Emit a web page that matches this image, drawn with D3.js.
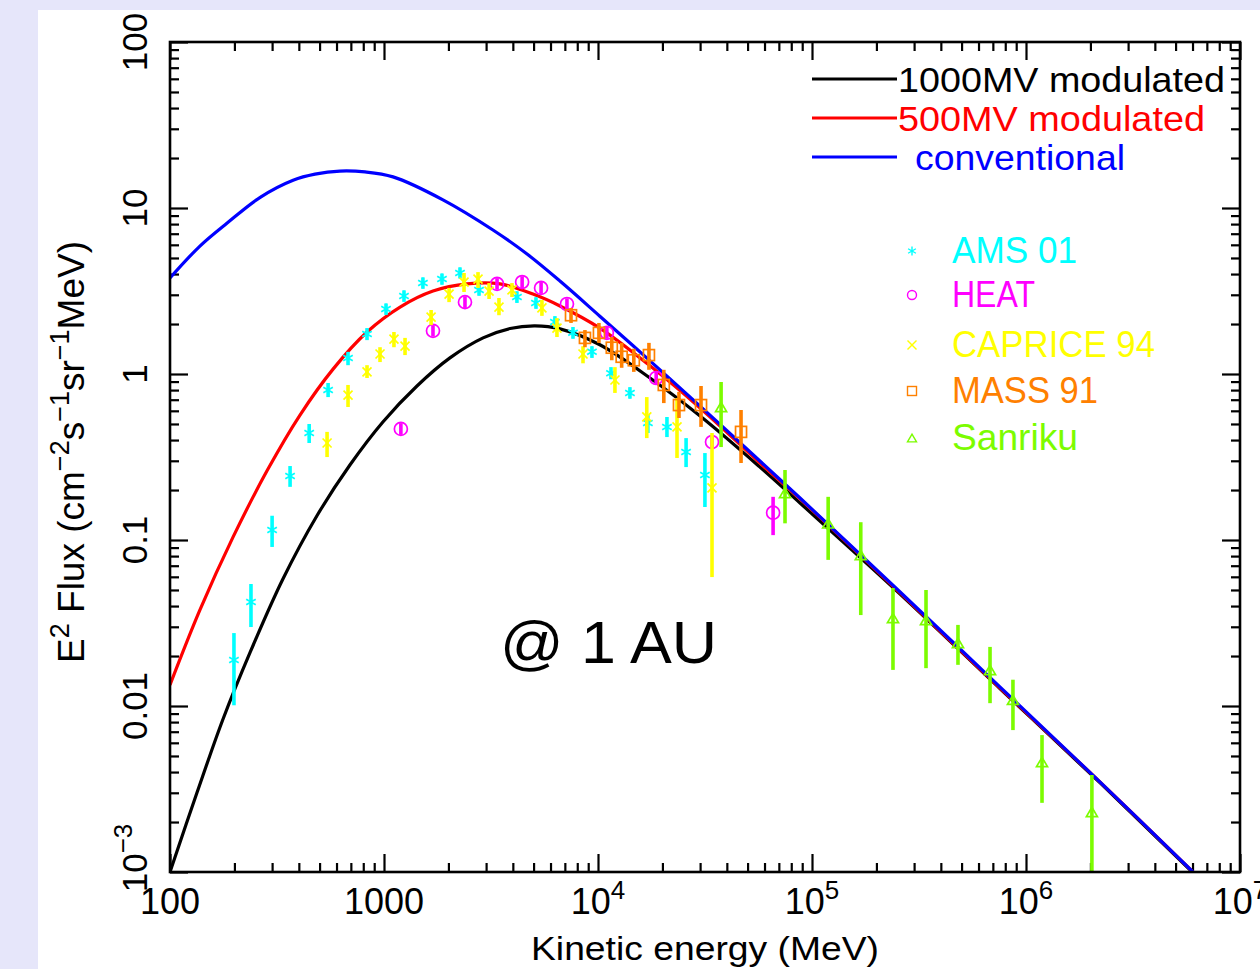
<!DOCTYPE html>
<html><head><meta charset="utf-8">
<script src="https://cdn.jsdelivr.net/npm/d3@7"></script>
<style>body{margin:0;background:#e6e6fa;} svg{display:block;}</style>
</head><body><svg id="c" width="1260" height="969"></svg>
<script>
// ---------- data ----------
const xTickValues = [100, 1000, 1e4, 1e5, 1e6, 1e7];
const xTickBase = ["100", "1000", "10", "10", "10", "10"];
const xTickExp = ["", "", "4", "5", "6", "7"];
const yTickValues = [100, 10, 1, 0.1, 0.01, 0.001];
const yTickBase = ["100", "10", "1", "0.1", "0.01", "10"];
const yTickExp = ["", "", "", "", "", "−3"];

const conventionalE = [100, 138, 185, 264, 376, 476, 622, 815, 1102, 1886, 3230, 4660, 6640, 10200, 17500, 30000, 57100, 87900, 258000, 757000, 2220000, 6030000];
const conventionalF = [3.79, 5.90, 8.12, 11.6, 14.7, 16.0, 16.7, 16.5, 15.4, 11.2, 7.37, 5.28, 3.63, 2.23, 1.20, 0.641, 0.299, 0.179, 0.0486, 0.0130, 0.00348, 0.00100];

const mod1000E = [100, 134, 177, 237, 337, 486, 693, 988, 1426, 2033, 2904, 3882, 5080, 6640, 10200, 17500, 30000, 57100, 87900, 258000, 757000, 2220000, 6030000];
const mod1000F = [0.00100, 0.00303, 0.00835, 0.0211, 0.0582, 0.140, 0.283, 0.514, 0.847, 1.25, 1.65, 1.88, 1.95, 1.87, 1.50, 0.946, 0.558, 0.275, 0.167, 0.0473, 0.0127, 0.00344, 0.00099];

const mod500E = [100, 138, 197, 284, 405, 578, 833, 1189, 1694, 2443, 3483, 4966, 6640, 10200, 17500, 30000, 57100, 87900, 258000, 757000, 2220000, 6030000];
const mod500F = [0.0134, 0.0379, 0.104, 0.261, 0.566, 1.07, 1.79, 2.53, 3.16, 3.49, 3.49, 3.03, 2.57, 1.89, 1.12, 0.624, 0.291, 0.177, 0.0480, 0.0128, 0.00348, 0.00100];

const amsE = [199, 239, 300, 364, 447, 548, 679, 833, 1022, 1240, 1520, 1866, 2265, 2780, 4180, 5130, 6290, 7640, 9370, 11500, 14100, 17100, 21000, 25800, 31600];
const amsF = [0.0189, 0.0423, 0.115, 0.243, 0.441, 0.801, 1.25, 1.74, 2.46, 2.95, 3.53, 3.73, 4.06, 3.21, 2.91, 2.68, 2.06, 1.77, 1.36, 1.01, 0.769, 0.507, 0.480, 0.339, 0.246];
const amsLo = [0.0101, 0.0299, 0.0908, 0.209, 0.384, 0.726, 1.13, 1.60, 2.27, 2.72, 3.26, 3.45, 3.76, 2.96, 2.68, 2.47, 1.90, 1.63, 1.25, 0.93, 0.71, 0.441, 0.417, 0.275, 0.158];
const amsHi = [0.0275, 0.0543, 0.140, 0.279, 0.500, 0.883, 1.36, 1.89, 2.66, 3.19, 3.82, 4.03, 4.39, 3.47, 3.15, 2.90, 2.23, 1.92, 1.47, 1.10, 0.833, 0.566, 0.551, 0.411, 0.334];

const heatE = [1199, 1694, 2390, 3375, 4420, 5420, 7160, 11000, 18700, 34100, 65800];
const heatF = [0.467, 1.82, 2.71, 3.49, 3.58, 3.30, 2.64, 1.77, 0.946, 0.389, 0.146];
const heatLo = [0.43, 1.68, 2.50, 3.22, 3.30, 3.04, 2.43, 1.63, 0.87, 0.358, 0.107];
const heatHi = [0.506, 1.97, 2.94, 3.78, 3.88, 3.58, 2.86, 1.92, 1.03, 0.429, 0.182];

const capriceE = [542, 679, 833, 958, 1113, 1254, 1660, 2014, 2366, 2750, 3097, 3445, 3963, 5470, 6430, 8510, 12000, 16900, 23400, 34100];
const capriceF = [0.384, 0.747, 1.03, 1.32, 1.62, 1.47, 2.20, 3.03, 3.58, 3.73, 3.16, 2.53, 3.21, 2.50, 1.89, 1.32, 0.920, 0.551, 0.480, 0.206];
const capriceLo = [0.316, 0.633, 0.946, 1.18, 1.45, 1.30, 1.97, 2.71, 3.12, 3.30, 2.83, 2.26, 2.91, 2.24, 1.67, 1.16, 0.769, 0.411, 0.312, 0.0598];
const capriceHi = [0.448, 0.859, 1.13, 1.45, 1.79, 1.65, 2.43, 3.30, 4.06, 4.11, 3.53, 2.87, 3.53, 2.79, 2.17, 1.47, 1.10, 0.726, 0.716, 0.441];

const massE = [7480, 8690, 10100, 11600, 12900, 14700, 17300, 20300, 23900, 30300, 46600];
const massF = [2.26, 1.65, 1.77, 1.44, 1.27, 1.21, 1.30, 0.859, 0.650, 0.650, 0.448];
const massLo = [2.03, 1.45, 1.54, 1.21, 1.09, 1.03, 1.06, 0.668, 0.543, 0.480, 0.291];
const massHi = [2.50, 1.84, 2.03, 1.67, 1.54, 1.42, 1.54, 1.06, 0.780, 0.847, 0.607];

const sanrikuE = [37600, 74800, 119000, 169000, 239000, 341000, 481000, 679000, 869000, 1188000, 2032000];
const sanrikuF = [0.633, 0.192, 0.126, 0.0812, 0.0339, 0.0330, 0.0240, 0.0165, 0.0109, 0.00460, 0.00230];
const sanrikuLo = [0.363, 0.126, 0.0759, 0.0353, 0.0165, 0.0169, 0.0177, 0.0104, 0.00716, 0.00261, 0.0009];
const sanrikuHi = [0.895, 0.264, 0.182, 0.128, 0.0514, 0.0500, 0.0308, 0.0227, 0.0144, 0.00668, 0.00384];

const curveNames = ["1000MV modulated", "500MV modulated", "conventional"];
const dataNames = ["AMS 01", "HEAT", "CAPRICE 94", "MASS 91", "Sanriku"];

// ---------- layout ----------
const W = 1260, H = 969;
const L = 170, R = 1240, T = 42, B = 872;
const svg = d3.select("#c");
svg.append("rect").attr("width", W).attr("height", H).attr("fill", "#e6e6fa");
svg.append("rect").attr("x", 38).attr("y", 10).attr("width", W - 38).attr("height", H - 10).attr("fill", "#ffffff");

const x = d3.scaleLog().domain([100, 1e7]).range([L, R]);
const y = d3.scaleLog().domain([1e-3, 100]).range([B, T]);

svg.append("clipPath").attr("id", "clip").append("rect")
  .attr("x", L).attr("y", T).attr("width", R - L).attr("height", B - T);

const font = "'Liberation Sans', Arial, Helvetica, sans-serif";

// ---------- ticks ----------
function minors(lo, hi) {
  const out = [];
  for (let d = lo; d < hi; d *= 10) for (let k = 2; k <= 9; k++) out.push(d * k);
  return out;
}
const xMinor = minors(100, 1e7);
const yMinor = minors(1e-3, 100);
function addAxis(gen, tr, vals, size) {
  const g = svg.append("g").attr("transform", tr)
    .call(gen.tickValues(vals).tickSize(size).tickFormat(""));
  g.select(".domain").remove();
  g.selectAll("line").attr("stroke", "#000").attr("stroke-width", 2.2);
}
addAxis(d3.axisBottom(x), `translate(0,${B})`, xTickValues, -18);
addAxis(d3.axisBottom(x), `translate(0,${B})`, xMinor, -9);
addAxis(d3.axisTop(x), `translate(0,${T})`, xTickValues, -18);
addAxis(d3.axisTop(x), `translate(0,${T})`, xMinor, -9);
addAxis(d3.axisLeft(y), `translate(${L},0)`, yTickValues, -18);
addAxis(d3.axisLeft(y), `translate(${L},0)`, yMinor, -9);
addAxis(d3.axisRight(y), `translate(${R},0)`, yTickValues, -18);
addAxis(d3.axisRight(y), `translate(${R},0)`, yMinor, -9);

// x tick labels
xTickValues.forEach((v, i) => {
  const t = svg.append("text").attr("x", x(v)).attr("y", 914)
    .attr("text-anchor", "middle").attr("font-family", font).attr("font-size", 36).attr("fill", "#000");
  t.append("tspan").text(xTickBase[i]);
  if (xTickExp[i]) t.append("tspan").attr("dy", -15).attr("font-size", 26).text(xTickExp[i]);
});
// y tick labels (rotated)
yTickValues.forEach((v, i) => {
  const yy = i === 5 ? 858 : y(v);
  const t = svg.append("text").attr("transform", `translate(147,${yy}) rotate(-90)`)
    .attr("text-anchor", "middle").attr("font-family", font).attr("font-size", 35).attr("fill", "#000");
  t.append("tspan").text(yTickBase[i]);
  if (yTickExp[i]) t.append("tspan").attr("dy", -15).attr("font-size", 26).text(yTickExp[i]);
});

// axis titles
svg.append("text").attr("x", 705).attr("y", 960).attr("text-anchor", "middle")
  .attr("font-family", font).attr("font-size", 34).attr("textLength", 348).attr("lengthAdjust", "spacingAndGlyphs")
  .text("Kinetic energy (MeV)");
const yt = svg.append("text").attr("transform", "translate(84,452) rotate(-90)").attr("text-anchor", "middle")
  .attr("font-family", font).attr("font-size", 37).attr("fill", "#000");
yt.append("tspan").text("E");
yt.append("tspan").attr("dy", -15).attr("font-size", 27).text("2");
yt.append("tspan").attr("dy", 15).text(" Flux (cm");
yt.append("tspan").attr("dy", -15).attr("font-size", 27).text("−2");
yt.append("tspan").attr("dy", 15).text("s");
yt.append("tspan").attr("dy", -15).attr("font-size", 27).text("−1");
yt.append("tspan").attr("dy", 15).text("sr");
yt.append("tspan").attr("dy", -15).attr("font-size", 27).text("−1");
yt.append("tspan").attr("dy", 15).text("MeV)");

// ---------- plot ----------
const plot = svg.append("g").attr("clip-path", "url(#clip)");
const line = d3.line().x(d => x(d[0])).y(d => y(d[1])).curve(d3.curveCatmullRom.alpha(0.5));
[[mod1000E, mod1000F, "#000000"], [mod500E, mod500F, "#ff0000"], [conventionalE, conventionalF, "#0000ff"]]
  .forEach(([E, F, c]) => {
    plot.append("path").datum(E.map((e, i) => [e, F[i]]))
      .attr("d", line).attr("fill", "none").attr("stroke", c).attr("stroke-width", 3.2);
  });

// markers
function drawMarker(g, kind, cx, cy, s, color, sw) {
  if (kind === "star") {
    for (let a = 0; a < 180; a += 60) {
      const r = a * Math.PI / 180;
      g.append("line").attr("x1", cx - s * Math.sin(r)).attr("y1", cy - s * Math.cos(r))
        .attr("x2", cx + s * Math.sin(r)).attr("y2", cy + s * Math.cos(r))
        .attr("stroke", color).attr("stroke-width", sw);
    }
  } else if (kind === "circle") {
    g.append("circle").attr("cx", cx).attr("cy", cy).attr("r", s).attr("fill", "none")
      .attr("stroke", color).attr("stroke-width", sw);
  } else if (kind === "cross") {
    g.append("line").attr("x1", cx - s).attr("y1", cy - s).attr("x2", cx + s).attr("y2", cy + s)
      .attr("stroke", color).attr("stroke-width", sw);
    g.append("line").attr("x1", cx - s).attr("y1", cy + s).attr("x2", cx + s).attr("y2", cy - s)
      .attr("stroke", color).attr("stroke-width", sw);
  } else if (kind === "square") {
    g.append("rect").attr("x", cx - s).attr("y", cy - s).attr("width", 2 * s).attr("height", 2 * s)
      .attr("fill", "none").attr("stroke", color).attr("stroke-width", sw);
  } else if (kind === "tri") {
    const h = s * 1.7;
    g.append("path").attr("d", `M${cx - s},${cy + h / 2}L${cx + s},${cy + h / 2}L${cx},${cy - h / 2}Z`)
      .attr("fill", "none").attr("stroke", color).attr("stroke-width", sw);
  }
}
const sets = [
  [amsE, amsF, amsLo, amsHi, "#00ffff", "star", 5.5],
  [heatE, heatF, heatLo, heatHi, "#ff00ff", "circle", 6.5],
  [capriceE, capriceF, capriceLo, capriceHi, "#ffff00", "cross", 4.5],
  [massE, massF, massLo, massHi, "#ff8000", "square", 5.5],
  [sanrikuE, sanrikuF, sanrikuLo, sanrikuHi, "#7cfc00", "tri", 5.5]
];
sets.forEach(([E, F, Lo, Hi, c, kind, s]) => {
  const g = plot.append("g");
  E.forEach((e, i) => {
    g.append("line").attr("x1", x(e)).attr("x2", x(e)).attr("y1", y(Lo[i])).attr("y2", y(Hi[i]))
      .attr("stroke", c).attr("stroke-width", 3.6);
    drawMarker(g, kind, x(e), y(F[i]), s, c, 1.7);
  });
});

// ---------- legends ----------
const curveColors = ["#000000", "#ff0000", "#0000ff"];
const curveLegY = [79, 118, 157];
const curveTextX = [898, 898, 915];
const curveTextW = [327, 307, 210];
curveNames.forEach((n, i) => {
  svg.append("line").attr("x1", 812).attr("x2", 897).attr("y1", curveLegY[i]).attr("y2", curveLegY[i])
    .attr("stroke", curveColors[i]).attr("stroke-width", 3);
  svg.append("text").attr("x", curveTextX[i]).attr("y", curveLegY[i] + 13)
    .attr("font-family", font).attr("font-size", 35).attr("fill", curveColors[i])
    .attr("textLength", curveTextW[i]).attr("lengthAdjust", "spacingAndGlyphs").text(n);
});
const dataColors = ["#00ffff", "#ff00ff", "#ffff00", "#ff8000", "#7cfc00"];
const dataKinds = ["star", "circle", "cross", "square", "tri"];
const dataBase = [263, 307, 357, 403, 450];
const dataW = [125, 83, 203, 146, 126];
dataNames.forEach((n, i) => {
  drawMarker(svg, dataKinds[i], 912, dataBase[i] - 12, 4.5, dataColors[i], 1.4);
  svg.append("text").attr("x", 952).attr("y", dataBase[i])
    .attr("font-family", font).attr("font-size", 36).attr("fill", dataColors[i])
    .attr("textLength", dataW[i]).attr("lengthAdjust", "spacingAndGlyphs").text(n);
});

svg.append("text").attr("x", 500).attr("y", 663).attr("font-family", font).attr("font-size", 60)
  .attr("fill", "#000").attr("textLength", 217).attr("lengthAdjust", "spacingAndGlyphs").text("@ 1 AU");

// frame
svg.append("rect").attr("x", L).attr("y", T).attr("width", R - L).attr("height", B - T)
  .attr("fill", "none").attr("stroke", "#000").attr("stroke-width", 2.6);
</script>
</body></html>
